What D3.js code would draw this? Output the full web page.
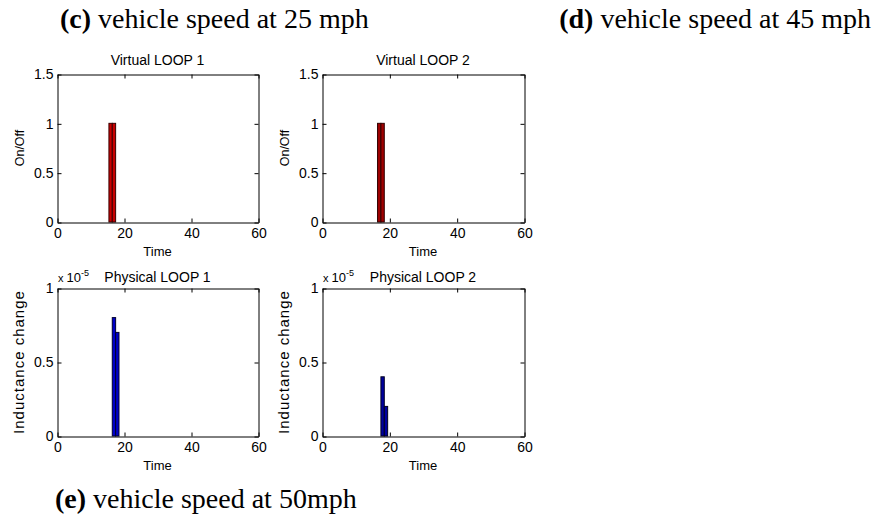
<!DOCTYPE html>
<html lang="en">
<head>
<meta charset="UTF-8">
<title>Loop detection</title>
<script src="https://d3js.org/d3.v7.min.js"></script>
<style>
  body { margin: 0; background: #fff; }
  svg { display: block; }
  .tick text { font-family: "Liberation Sans", Arial, sans-serif; }
</style>
</head>
<body>
<svg id="chart" width="876" height="527"></svg>
<script>
// data
const xTicks = [0, 20, 40, 60];
const virtualYTicks = [0, 0.5, 1, 1.5];
const physicalYTicks = [0, 0.5, 1];

const virtual1Times = [16, 17];
const virtual1Vals = [1, 1];
const virtual2Times = [17, 18];
const virtual2Vals = [1, 1];
// physical values are in units of 1e-5
const physical1Times = [17, 18];
const physical1Vals = [0.8, 0.7];
const physical2Times = [18, 19];
const physical2Vals = [0.4, 0.2];

const captions = [
  {b: "(c)", t: " vehicle speed at 25 mph", x: 60, y: 28, anchor: "start"},
  {b: "(d)", t: " vehicle speed at 45 mph", x: 871, y: 28, anchor: "end"},
  {b: "(e)", t: " vehicle speed at 50mph", x: 55, y: 508, anchor: "start"}
];

const panels = [
  {title: "Virtual LOOP 1", ylab: "On/Off", times: virtual1Times, vals: virtual1Vals,
   yTicks: virtualYTicks, ymax: 1.5, fill: "#c80000", stroke: "#3a0000",
   left: 57, right: 258, top: 74, bottom: 222, titleGap: 9, exp: false},
  {title: "Virtual LOOP 2", ylab: "On/Off", times: virtual2Times, vals: virtual2Vals,
   yTicks: virtualYTicks, ymax: 1.5, fill: "#a00000", stroke: "#300000",
   left: 322, right: 524, top: 74, bottom: 222, titleGap: 9, exp: false},
  {title: "Physical LOOP 1", ylab: "Inductance change", times: physical1Times, vals: physical1Vals,
   yTicks: physicalYTicks, ymax: 1, fill: "#0000c8", stroke: "#000030",
   left: 57, right: 258, top: 288, bottom: 436, titleGap: 6, exp: true},
  {title: "Physical LOOP 2", ylab: "Inductance change", times: physical2Times, vals: physical2Vals,
   yTicks: physicalYTicks, ymax: 1, fill: "#0000a0", stroke: "#000020",
   left: 322, right: 524, top: 288, bottom: 436, titleGap: 6, exp: true}
];

const svg = d3.select("#chart");
const font = "'Liberation Sans', Arial, sans-serif";

panels.forEach(function(p) {
  const x = d3.scaleLinear().domain([0, 60]).range([p.left, p.right]);
  const y = d3.scaleLinear().domain([0, p.ymax]).range([p.bottom, p.top]);
  const g = svg.append("g");

  // bars, one time unit wide
  g.selectAll("rect")
    .data(p.times.map((t, i) => ({t: t, v: p.vals[i]})))
    .join("rect")
      .attr("x", d => x(d.t - 0.5))
      .attr("width", d => x(d.t + 0.5) - x(d.t - 0.5))
      .attr("y", d => y(d.v))
      .attr("height", d => y(0) - y(d.v))
      .attr("fill", p.fill)
      .attr("stroke", p.stroke)
      .attr("stroke-width", 1);

  // axes with inward ticks, mirrored on top and right
  const fmt = d3.format("~g");
  const ax = [
    [d3.axisBottom(x).tickValues(xTicks).tickFormat(fmt), p.bottom, 0, true],
    [d3.axisTop(x).tickValues(xTicks).tickFormat(""), p.top, 0, false],
    [d3.axisLeft(y).tickValues(p.yTicks).tickFormat(fmt), 0, p.left, true],
    [d3.axisRight(y).tickValues(p.yTicks).tickFormat(""), 0, p.right, false]
  ];
  ax.forEach(function(a, i) {
    const sel = g.append("g")
      .attr("transform", "translate(" + (a[2] + 0.5) + "," + (a[1] + 0.5) + ")")
      .call(a[0].tickSizeInner(-4).tickSizeOuter(0).tickPadding(i == 0 ? 6 : 4));
    sel.select(".domain").attr("stroke", "#000");
    sel.selectAll(".tick line").attr("stroke", "#000");
    sel.selectAll(".tick text").attr("font-size", 14).attr("fill", "#000");
  });

  const cx = (p.left + p.right) / 2;
  g.append("text")
    .attr("x", cx).attr("y", p.top - p.titleGap)
    .attr("text-anchor", "middle")
    .attr("font-family", font).attr("font-size", 14)
    .text(p.title);

  g.append("text")
    .attr("x", cx).attr("y", p.bottom + 34)
    .attr("text-anchor", "middle")
    .attr("font-family", font).attr("font-size", 13)
    .text("Time");

  const long = p.ylab.length > 8;
  g.append("text")
    .attr("transform", "translate(" + (p.left - 33) + "," + ((p.top + p.bottom) / 2) + ") rotate(-90)")
    .attr("text-anchor", "middle")
    .attr("font-family", font)
    .attr("font-size", long ? 15 : 12.5)
    .attr("letter-spacing", long ? 1 : 0)
    .text(p.ylab);

  if (p.exp) {
    const e = g.append("text")
      .attr("x", p.left + 1).attr("y", p.top - p.titleGap)
      .attr("font-family", font).attr("font-size", 13);
    e.append("tspan").attr("font-size", 11).text("x ");
    e.append("tspan").text("10");
    e.append("tspan").attr("dy", -6).attr("font-size", 9).text("-5");
  }
});

// figure captions
captions.forEach(function(c) {
  const t = svg.append("text")
    .attr("x", c.x).attr("y", c.y)
    .attr("text-anchor", c.anchor)
    .attr("font-family", "'Liberation Serif', 'Times New Roman', serif")
    .attr("font-size", 28);
  t.append("tspan").attr("font-weight", "bold").text(c.b);
  t.append("tspan").text(c.t);
});
</script>
</body>
</html>
